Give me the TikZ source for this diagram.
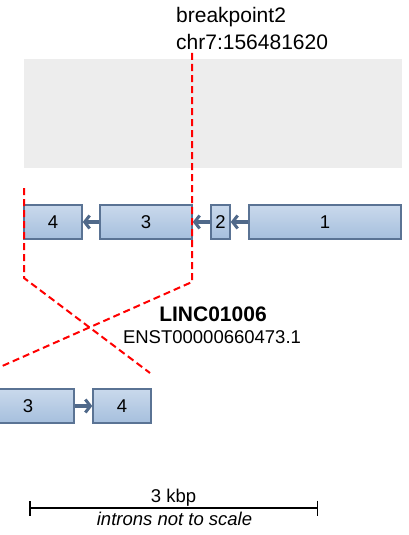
\documentclass[tikz,border=0pt]{standalone}
\usepackage{fontspec}
\setmainfont{Liberation Sans}
\usetikzlibrary{arrows.meta,positioning}

\definecolor{exonline}{HTML}{5A7394}
\definecolor{exontop}{HTML}{C9D9EC}
\definecolor{exonbot}{HTML}{A6BFDD}
\definecolor{introncol}{HTML}{50698A}
\definecolor{panelgrey}{HTML}{EDEDED}

\begin{document}
\begin{tikzpicture}[x=1pt, y=-1pt,
  exon/.style={rectangle, draw=exonline, line width=1.5pt, top color=exontop, bottom color=exonbot,
    minimum height=34pt, inner sep=0pt, font=\fontsize{18.5}{22}\selectfont},
  intron/.style={draw=introncol, line width=4pt, -{Straight Barb[length=5pt, width=13pt, line width=3pt]}},
  cut/.style={red, line width=2pt, dash pattern=on 7pt off 4pt},
  label/.style={inner sep=0pt, font=\fontsize{18.5}{22}\selectfont}
]
\clip (0,0) rectangle (409,535);
% grey panel
\fill[panelgrey] (24,59) rectangle (402,168);
% top transcript
\node[exon, minimum width=58pt] (e4) at (53,222) {4};
\node[exon, minimum width=92pt] (e3) at (146,222) {3};
\node[exon, minimum width=19pt] (e2) at (220.5,222) {2};
\node[exon, minimum width=152pt] (e1) at (325,222) {1};
\draw[intron] (e1.west) -- (e2.east);
\draw[intron] (e2.west) -- (e3.east);
\draw[intron] (e3.west) -- (e4.east);
% fused transcript
\node[exon, minimum width=92pt] (f3) at (28,406) {3};
\node[exon, minimum width=58pt] (f4) at (122,406) {4};
\draw[intron] (f3.east) -- (f4.west);
% breakpoints
\coordinate (bp2top) at (192,53);
\coordinate (bp2bend) at (192,282);
\coordinate (bp2end) at (0,367);
\coordinate (bp1top) at (24,188);
\coordinate (bp1bend) at (24,278);
\coordinate (bp1end) at (150,373);
\draw[cut] (bp2top) -- (bp2bend) -- (bp2end);
\draw[cut] (bp1top) -- (bp1bend) -- (bp1end);
\node[label, anchor=base west, font=\fontsize{21}{25}\selectfont] (bpname) at (176,23) {breakpoint2};
\node[label, anchor=base west, font=\fontsize{21}{25}\selectfont] (bppos) at (176,49) {chr7:156481620};
% gene name
\node[label, anchor=base, font=\fontsize{21}{25}\selectfont\bfseries] (gene) at (213,321) {LINC01006};
\node[label, anchor=base] (tx) at (212,343) {ENST00000660473.1};
% scale bar
\coordinate (sbl) at (29,508);
\coordinate (sbr) at (318,508);
\draw[line width=1.5pt, {Bar[width=15pt]}-{Bar[width=15pt]}] (sbl) -- (sbr);
\node[label, anchor=base] (kbp) at (173.5,502) {3 kbp};
\node[label, anchor=base, font=\fontsize{18.5}{22}\selectfont\itshape] (note) at (174.5,525) {introns not to scale};
\end{tikzpicture}
\end{document}
